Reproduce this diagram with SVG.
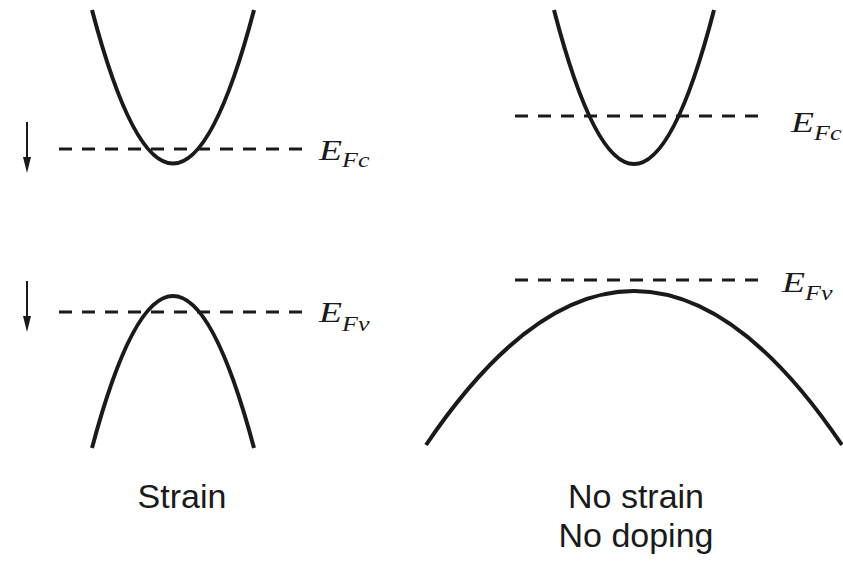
<svg xmlns="http://www.w3.org/2000/svg" width="843" height="561" viewBox="0 0 843 561">
<style>
.band{fill:none;stroke:#1a1a1a;stroke-width:4;stroke-linecap:butt}
.lvl{stroke:#1a1a1a;stroke-width:3;stroke-dasharray:13 10}
.arr{stroke:#1a1a1a;stroke-width:2}
.lab{font-family:"Liberation Serif","Times New Roman",serif;font-style:italic;fill:#1a1a1a;font-size:29px}
.sub{font-size:20px}
.cap{font-family:"Liberation Sans",Arial,sans-serif;font-size:34px;fill:#1a1a1a;text-anchor:middle}
</style>
<rect width="843" height="561" fill="#fff"/>
<g id="strain-conduction">
<path class="band" d="M92,10 Q173,317 254,10"/>
</g>
<g id="strain-valence">
<path class="band" d="M92,448 Q173,144 254,448"/>
</g>
<g id="nostrain-conduction">
<path class="band" d="M554,10 Q634,318 714,10"/>
</g>
<g id="nostrain-valence">
<path class="band" d="M426,445 Q634,137 842,445"/>
</g>
<g id="levels">
<line class="lvl" x1="59" y1="149" x2="303" y2="149"/>
<line class="lvl" x1="59" y1="312" x2="303" y2="312"/>
<line class="lvl" x1="515" y1="116" x2="758" y2="116"/>
<line class="lvl" x1="515" y1="280" x2="758" y2="280"/>
</g>
<g id="arrows">
<line class="arr" x1="27" y1="122" x2="27" y2="158"/>
<path d="M23,157 L31,157 L27,173 Z" fill="#1a1a1a"/>
<line class="arr" x1="27" y1="281" x2="27" y2="317"/>
<path d="M23,316 L31,316 L27,332 Z" fill="#1a1a1a"/>
</g>
<g id="label-EFc-left"><text class="lab" transform="translate(319,160) scale(1.3,1)">E<tspan class="sub" dy="7">Fc</tspan></text></g>
<g id="label-EFv-left"><text class="lab" transform="translate(319,322) scale(1.3,1)">E<tspan class="sub" dy="9">Fv</tspan></text></g>
<g id="label-EFc-right"><text class="lab" transform="translate(791,132) scale(1.3,1)">E<tspan class="sub" dy="8">Fc</tspan></text></g>
<g id="label-EFv-right"><text class="lab" transform="translate(782,292) scale(1.3,1)">E<tspan class="sub" dy="8">Fv</tspan></text></g>
<g id="caption-strain"><text class="cap" x="182" y="508">Strain</text></g>
<g id="caption-nostrain"><text class="cap" x="636" y="508">No strain</text><text class="cap" x="636" y="547">No doping</text></g>
</svg>
